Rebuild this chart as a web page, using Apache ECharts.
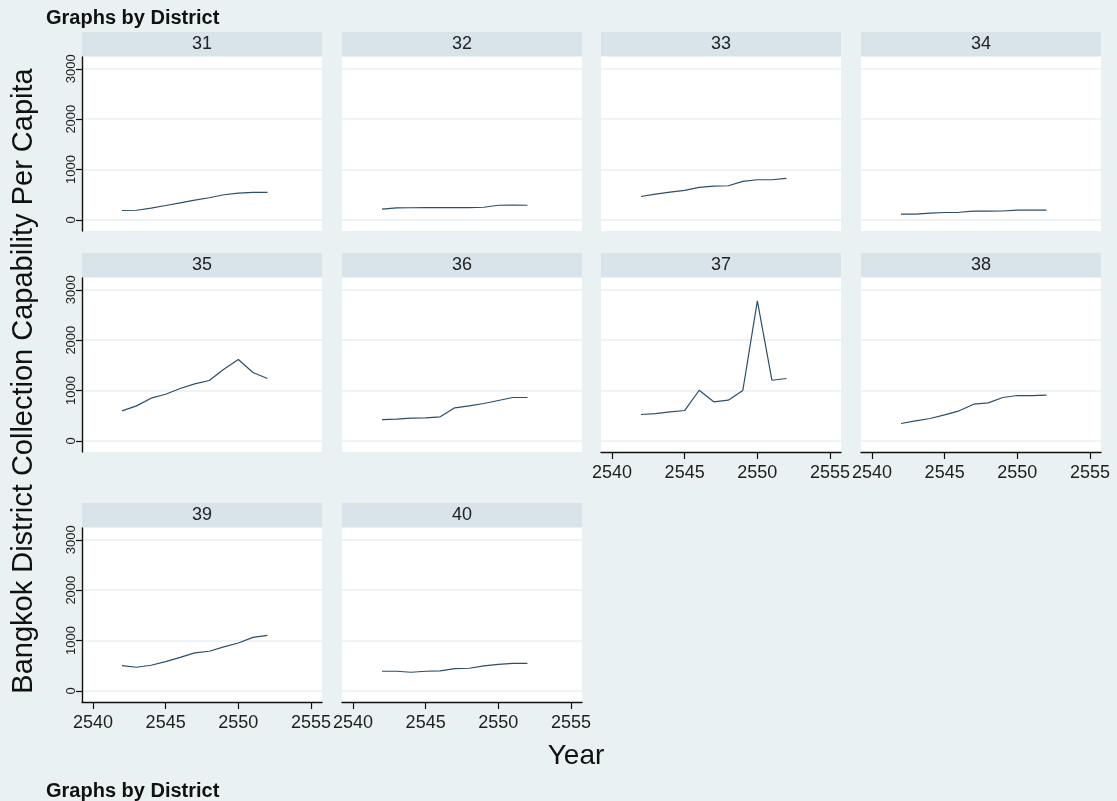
<!DOCTYPE html>
<html>
<head>
<meta charset="utf-8">
<script src="https://cdn.jsdelivr.net/npm/echarts@6/dist/echarts.min.js"></script>
<style>
  html, body { margin: 0; padding: 0; background: #eaf1f3; }
  #chart { width: 1117px; height: 801px; }
</style>
</head>
<body>
<div id="chart"></div>
<script>
// Years on the Thai calendar (B.E.)
const years = [2542, 2543, 2544, 2545, 2546, 2547, 2548, 2549, 2550, 2551, 2552];

// District codes, one panel each
const districts = ['31', '32', '33', '34', '35', '36', '37', '38', '39', '40'];

// Collection capability per capita, by district
const d31 = [185, 190, 233, 285, 338, 392, 438, 498, 531, 544, 544];
const d32 = [213, 239, 240, 241, 242, 243, 244, 250, 290, 292, 290];
const d33 = [464, 511, 551, 584, 643, 670, 677, 763, 796, 796, 823];
const d34 = [113, 113, 133, 146, 150, 172, 172, 175, 192, 192, 192];
const d35 = [596, 695, 847, 926, 1039, 1132, 1198, 1423, 1615, 1357, 1238];
const d36 = [423, 430, 450, 456, 477, 656, 695, 741, 801, 861, 861];
const d37 = [523, 542, 576, 602, 1005, 775, 807, 1000, 2780, 1204, 1238];
const d38 = [344, 397, 443, 516, 596, 728, 755, 861, 900, 900, 906];
const d39 = [502, 468, 508, 581, 666, 753, 786, 872, 951, 1063, 1103];
const d40 = [389, 389, 369, 389, 395, 442, 449, 496, 527, 547, 547];
const values = [d31, d32, d33, d34, d35, d36, d37, d38, d39, d40];

// Axis tick labels
const yTicks = [0, 1000, 2000, 3000];
const xTicks = [2540, 2545, 2550, 2555];

// Panel layout
const colLeft = [82, 342, 601, 861];
const stripTop = [32, 253, 503];
const panelW = 240, stripH = 25, plotH = 174;
const NCOL = 4;

const BG = '#eaf1f3', STRIP = '#d9e4ea', GRID = '#e9f0f2', LINE = '#2c4e68';
const FONT = '"Liberation Sans", Arial, Helvetica, sans-serif';
const plain = v => String(v);

const grids = [], xAxes = [], yAxes = [], series = [], graphics = [];

districts.forEach((name, i) => {
  const col = i % NCOL, row = Math.floor(i / NCOL);
  const left = colLeft[col];
  const top = stripTop[row] + stripH;
  const hasX = i + NCOL >= districts.length;
  const hasY = col === 0;

  grids.push({
    left: left, top: top, width: panelW, height: plotH,
    show: true, backgroundColor: '#ffffff', borderWidth: 0
  });

  xAxes.push({
    gridIndex: i, type: 'value', min: 2539.25, max: 2555.75,
    show: hasX,
    axisLine: { show: true, onZero: false, lineStyle: { color: '#111', width: 1.4 } },
    axisTick: { show: true, customValues: xTicks, length: 7, lineStyle: { color: '#111', width: 1.2 } },
    axisLabel: { show: true, customValues: xTicks, formatter: plain, fontSize: 18, color: '#1e1e1e', margin: 12, fontFamily: FONT },
    splitLine: { show: false }
  });

  yAxes.push({
    gridIndex: i, type: 'value', min: -222, max: 3235,
    axisLine: { show: hasY, onZero: false, lineStyle: { color: '#111', width: 1.4 } },
    axisTick: { show: hasY, customValues: yTicks, length: 6, lineStyle: { color: '#111', width: 1.2 } },
    axisLabel: { show: hasY, customValues: yTicks, formatter: plain, rotate: 90, fontSize: 13, color: '#1e1e1e', margin: 4, fontFamily: FONT },
    splitLine: { show: true, lineStyle: { color: GRID, width: 1.5 } }
  });

  series.push({
    type: 'line', xAxisIndex: i, yAxisIndex: i,
    data: years.map((y, k) => [y, values[i][k]]),
    symbol: 'none', showSymbol: false, silent: true,
    lineStyle: { color: LINE, width: 1.2 }
  });

  // District strip above each panel
  graphics.push({
    type: 'rect', silent: true,
    shape: { x: left, y: stripTop[row], width: panelW, height: stripH - 1 },
    style: { fill: STRIP }
  });
  graphics.push({
    type: 'text', silent: true,
    x: left + panelW / 2, y: stripTop[row] + stripH / 2,
    style: { text: name, fill: '#222', font: '18px ' + FONT, align: 'center', verticalAlign: 'middle' }
  });
});

// Overall titles
graphics.push({
  type: 'text', silent: true, x: 46, y: 18,
  style: { text: 'Graphs by District', fill: '#111', font: 'bold 20px ' + FONT, align: 'left', verticalAlign: 'middle' }
});
graphics.push({
  type: 'text', silent: true, x: 46, y: 791,
  style: { text: 'Graphs by District', fill: '#111', font: 'bold 20px ' + FONT, align: 'left', verticalAlign: 'middle' }
});
graphics.push({
  type: 'text', silent: true, x: 24, y: 381, rotation: Math.PI / 2,
  style: { text: 'Bangkok District Collection Capability Per Capita', fill: '#111', font: '29px ' + FONT, align: 'center', verticalAlign: 'middle' }
});
graphics.push({
  type: 'text', silent: true, x: 576, y: 756,
  style: { text: 'Year', fill: '#111', font: '28px ' + FONT, align: 'center', verticalAlign: 'middle' }
});

const chart = echarts.init(document.getElementById('chart'), null, { renderer: 'canvas' });
chart.setOption({
  backgroundColor: BG,
  animation: false,
  grid: grids,
  xAxis: xAxes,
  yAxis: yAxes,
  series: series,
  graphic: graphics
});
</script>
</body>
</html>
